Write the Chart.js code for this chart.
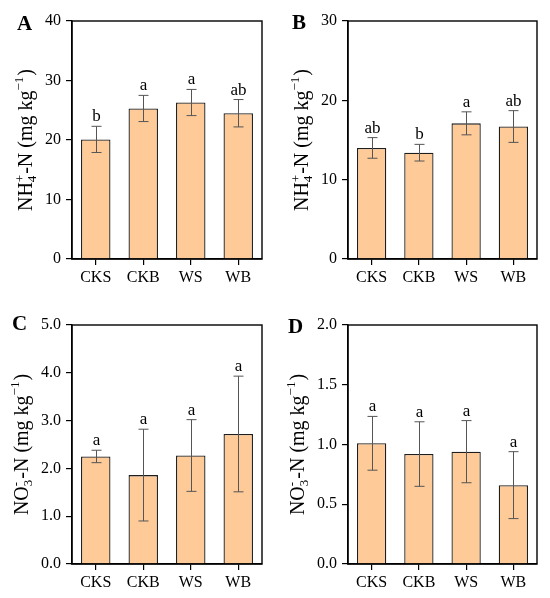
<!DOCTYPE html>
<html>
<head>
<meta charset="utf-8">
<script src="https://cdn.jsdelivr.net/npm/chart.js@4.4.1/dist/chart.umd.min.js"></script>
<style>
  html, body { margin: 0; padding: 0; background: #fff; overflow: hidden; }
  body { width: 550px; height: 598px; position: relative; }
  .panel { position: absolute; }
</style>
</head>
<body>
<div class="panel" id="pA" style="left:0;top:0;width:275px;height:299px"><canvas id="cA"></canvas></div>
<div class="panel" id="pB" style="left:276px;top:0;width:274px;height:299px"><canvas id="cB"></canvas></div>
<div class="panel" id="pC" style="left:0;top:304px;width:275px;height:294px"><canvas id="cC"></canvas></div>
<div class="panel" id="pD" style="left:276px;top:304px;width:274px;height:294px"><canvas id="cD"></canvas></div>
<script>
// ---- data ----
const categories = ['CKS', 'CKB', 'WS', 'WB'];

const nh4A = [20.1, 25.3, 26.3, 24.5];
const nh4AErr = [2.2, 2.2, 2.2, 2.3];
const nh4ALetters = ['b', 'a', 'a', 'ab'];

const nh4B = [14.0, 13.4, 17.1, 16.7];
const nh4BErr = [1.3, 1.05, 1.45, 2.0];
const nh4BLetters = ['ab', 'b', 'a', 'ab'];

const no3C = [2.25, 1.86, 2.27, 2.72];
const no3CErr = [0.13, 0.96, 0.75, 1.21];
const no3CLetters = ['a', 'a', 'a', 'a'];

const no3D = [1.01, 0.92, 0.94, 0.66];
const no3DErr = [0.225, 0.27, 0.26, 0.28];
const no3DLetters = ['a', 'a', 'a', 'a'];

const yTicksA = [0, 10, 20, 30, 40];
const yTicksB = [0, 10, 20, 30];
const yTicksC = [0.0, 1.0, 2.0, 3.0, 4.0, 5.0];
const yTicksD = [0.0, 0.5, 1.0, 1.5, 2.0];

const panelLetters = ['A', 'B', 'C', 'D'];

// ---- styling ----
const FONT = "'Liberation Serif', 'Times New Roman', serif";
const BAR_FILL = '#FDCA98';
const BAR_EDGE = '#1e1e1e';
const ERR_COLOR = '#555555';

function makeChart(canvasId, values, errs, letters, yTicks, decimals, panelLetter, titleParts, xAxisHeight, letterOffset, titleX) {
  const ctxEl = document.getElementById(canvasId);
  const yMin = yTicks[0], yMax = yTicks[yTicks.length - 1];
  const step = yTicks[1] - yTicks[0];

  const overlay = {
    id: 'overlay',
    afterDatasetsDraw(chart) {
      const ctx = chart.ctx;
      const y = chart.scales.y;
      const meta = chart.getDatasetMeta(0);
      ctx.save();
      ctx.strokeStyle = ERR_COLOR;
      ctx.lineWidth = 1;
      values.forEach((v, i) => {
        const cx = Math.round(meta.data[i].x) + 0.5;
        const yt = y.getPixelForValue(v + errs[i]);
        const yb = y.getPixelForValue(v - errs[i]);
        ctx.beginPath();
        ctx.moveTo(cx, yt); ctx.lineTo(cx, yb);
        ctx.moveTo(cx - 5, yt); ctx.lineTo(cx + 5, yt);
        ctx.moveTo(cx - 5, yb); ctx.lineTo(cx + 5, yb);
        ctx.stroke();
        ctx.fillStyle = '#000';
        ctx.font = '17px ' + FONT;
        ctx.textAlign = 'center';
        ctx.textBaseline = 'alphabetic';
        ctx.fillText(letters[i], cx, yt - 5);
      });
      ctx.restore();
    },
    afterDraw(chart) {
      const ctx = chart.ctx;
      const a = chart.chartArea;
      ctx.save();
      ctx.strokeStyle = '#000';
      ctx.lineWidth = 1.4;
      ctx.strokeRect(a.left, a.top, a.right - a.left, a.bottom - a.top);
      ctx.fillStyle = '#000';
      ctx.font = 'bold 21px ' + FONT;
      ctx.textAlign = 'left';
      ctx.textBaseline = 'alphabetic';
      ctx.fillText(panelLetter.text, panelLetter.x, a.top + letterOffset);
      const cy = (a.top + a.bottom) / 2;
      ctx.translate(titleX, cy);
      ctx.rotate(-Math.PI / 2);
      const big = '20px ' + FONT, small = '13px ' + FONT;
      let total = 0;
      titleParts.forEach(p => {
        if (p.type === 'text') { ctx.font = big; p.w = ctx.measureText(p.s).width; }
        else if (p.type === 'subsup') { ctx.font = small; p.w = Math.max(ctx.measureText(p.sub).width, ctx.measureText(p.sup).width) + 1; }
        else if (p.type === 'sup') { ctx.font = small; p.w = ctx.measureText(p.s).width + 1; }
        total += p.w;
      });
      let xx = -total / 2;
      titleParts.forEach(p => {
        if (p.type === 'text') { ctx.font = big; ctx.fillText(p.s, xx, 0); }
        else if (p.type === 'subsup') { ctx.font = small; ctx.fillText(p.sub, xx, 4); ctx.fillText(p.sup, xx, -8); }
        else if (p.type === 'sup') { ctx.font = small; ctx.fillText(p.s, xx, -9); }
        xx += p.w;
      });
      ctx.restore();
    }
  };

  return new Chart(ctxEl, {
    type: 'bar',
    data: {
      labels: categories,
      datasets: [{
        data: values,
        backgroundColor: BAR_FILL,
        borderColor: BAR_EDGE,
        borderWidth: 1.3,
        barPercentage: 0.62,
        categoryPercentage: 1.0
      }]
    },
    options: {
      responsive: true,
      maintainAspectRatio: false,
      animation: false,
      layout: { padding: { left: 0, top: 21, right: 13, bottom: 0 } },
      plugins: { legend: { display: false }, tooltip: { enabled: false } },
      scales: {
        x: {
          type: 'category',
          offset: true,
          grid: { display: true, offset: false, drawOnChartArea: false, drawTicks: true, tickLength: 6, color: '#000', lineWidth: 1.2 },
          border: { display: true, color: '#000', width: 1.4 },
          ticks: { color: '#000', font: { family: FONT, size: 16 }, padding: 3, maxRotation: 0 },
          afterFit(scale) { scale.height = xAxisHeight; }
        },
        y: {
          min: yMin, max: yMax,
          afterBuildTicks(scale) { scale.ticks = yTicks.map(v => ({ value: v })); },
          grid: { display: true, drawOnChartArea: false, drawTicks: true, tickLength: 6, color: '#000', lineWidth: 1.2 },
          border: { display: true, color: '#000', width: 1.4 },
          ticks: { color: '#000', font: { family: FONT, size: 16 }, padding: 5, stepSize: step,
                   callback: v => Number(v).toFixed(decimals) },
          afterFit(scale) { scale.width = 72; }
        }
      }
    },
    plugins: [overlay]
  });
}

const titleNH4 = [
  { type: 'text', s: 'NH' },
  { type: 'subsup', sub: '4', sup: '+' },
  { type: 'text', s: '-N (mg kg' },
  { type: 'sup', s: '\u22121' },
  { type: 'text', s: ')' }
];
const titleNO3 = [
  { type: 'text', s: 'NO' },
  { type: 'subsup', sub: '3', sup: '-' },
  { type: 'text', s: '-N (mg kg' },
  { type: 'sup', s: '\u22121' },
  { type: 'text', s: ')' }
];

makeChart('cA', nh4A, nh4AErr, nh4ALetters, yTicksA, 0, { text: panelLetters[0], x: 17 }, titleNH4, 40, 9, 32);
makeChart('cB', nh4B, nh4BErr, nh4BLetters, yTicksB, 0, { text: panelLetters[1], x: 16 }, titleNH4, 40, 8, 32);
makeChart('cC', no3C, no3CErr, no3CLetters, yTicksC, 1, { text: panelLetters[2], x: 12 }, titleNO3, 34, 5, 28);
makeChart('cD', no3D, no3DErr, no3DLetters, yTicksD, 1, { text: panelLetters[3], x: 12 }, titleNO3, 34, 8, 28);
</script>
</body>
</html>
